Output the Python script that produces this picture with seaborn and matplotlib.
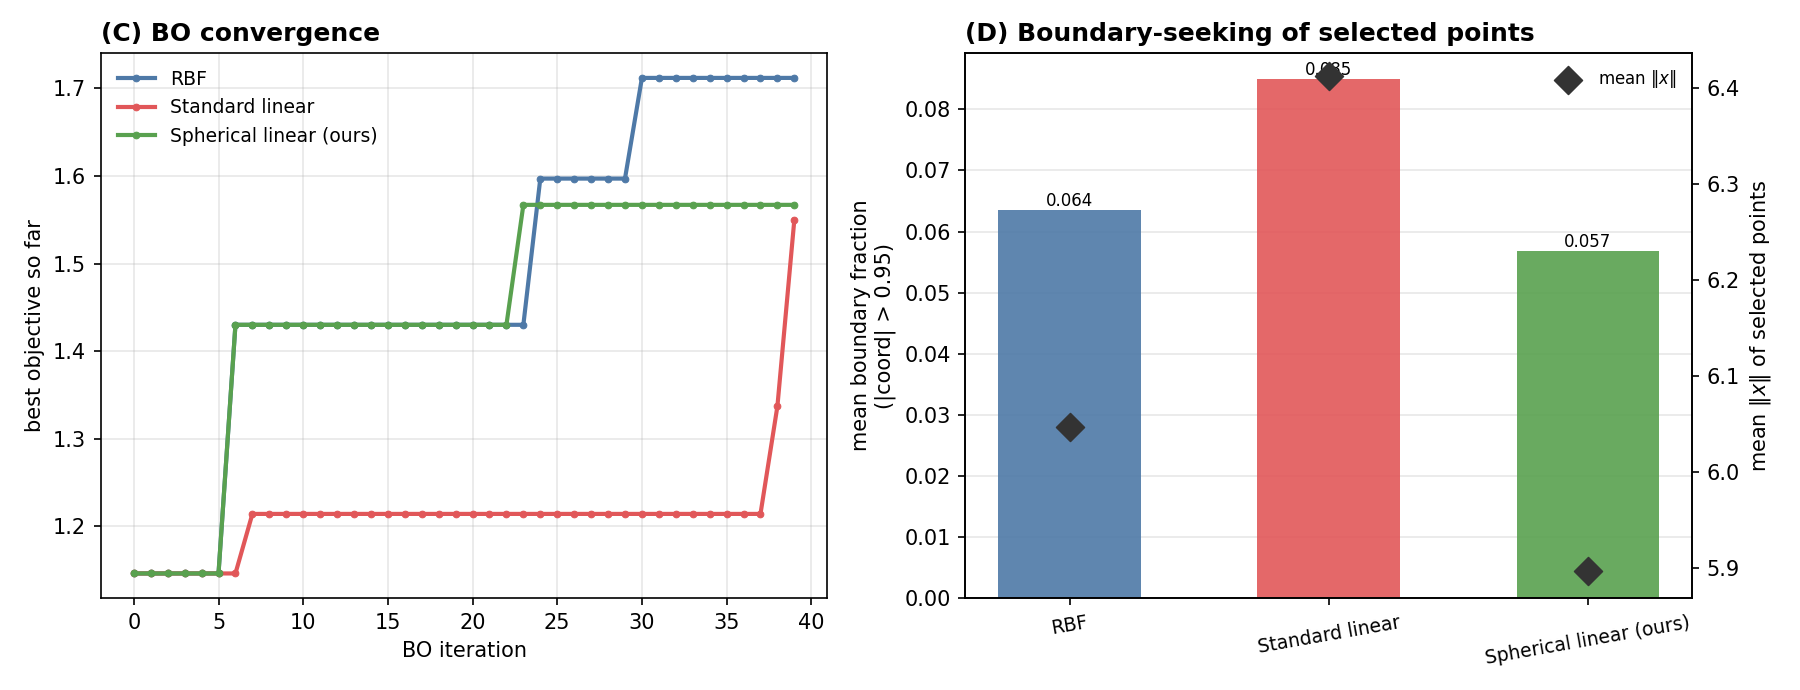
import numpy as np
import pandas as pd
import matplotlib
matplotlib.use("Agg")
import matplotlib.pyplot as plt
import seaborn as sns

# ---------------- data ----------------
iterations = list(range(40))
rbf_best = [1.146, 1.146, 1.146, 1.146, 1.146, 1.146,
            1.430, 1.430, 1.430, 1.430, 1.430, 1.430, 1.430, 1.430, 1.430,
            1.430, 1.430, 1.430, 1.430, 1.430, 1.430, 1.430, 1.430, 1.430,
            1.597, 1.597, 1.597, 1.597, 1.597, 1.597,
            1.712, 1.712, 1.712, 1.712, 1.712, 1.712, 1.712, 1.712, 1.712, 1.712]
std_best = [1.146, 1.146, 1.146, 1.146, 1.146, 1.146, 1.146,
            1.214, 1.214, 1.214, 1.214, 1.214, 1.214, 1.214, 1.214, 1.214,
            1.214, 1.214, 1.214, 1.214, 1.214, 1.214, 1.214, 1.214, 1.214,
            1.214, 1.214, 1.214, 1.214, 1.214, 1.214, 1.214, 1.214, 1.214,
            1.214, 1.214, 1.214, 1.214,
            1.337, 1.550]
sph_best = [1.146, 1.146, 1.146, 1.146, 1.146, 1.146,
            1.430, 1.430, 1.430, 1.430, 1.430, 1.430, 1.430, 1.430, 1.430,
            1.430, 1.430, 1.430, 1.430, 1.430, 1.430, 1.430, 1.430,
            1.567, 1.567, 1.567, 1.567, 1.567, 1.567, 1.567, 1.567, 1.567,
            1.567, 1.567, 1.567, 1.567, 1.567, 1.567, 1.567, 1.567]

methods = ["RBF", "Standard linear", "Spherical linear (ours)"]
boundary_frac = [0.0635, 0.0849, 0.0569]
mean_norm = [6.047, 6.412, 5.897]

colors = ["#4E79A7", "#E15759", "#59A14F"]

# ---------------- style ----------------
plt.style.use("default")
plt.rcParams["font.family"] = ["DejaVu Sans"]
plt.rcParams["font.size"] = 10

fig, (ax, axb) = plt.subplots(1, 2, figsize=(12, 4.6), dpi=150)
fig.subplots_adjust(left=0.056, right=0.94, bottom=0.133, top=0.923, wspace=0.19)

# ---------------- (C) convergence ----------------
for name, ys, c in zip(methods, [rbf_best, std_best, sph_best], colors):
    sns.lineplot(x=iterations, y=ys, ax=ax, color=c, linewidth=2.0,
                 marker="o", markersize=3.2, markeredgecolor=c,
                 markeredgewidth=0.5, label=name)
ax.set_xlabel("BO iteration")
ax.set_ylabel("best objective so far")
ax.set_title("(C) BO convergence", loc="left", fontweight="bold", fontsize=12)
ax.grid(True, alpha=0.3)
ax.set_xticks(range(0, 41, 5))
ax.legend(loc="upper left", frameon=False, fontsize=9)

# ---------------- (D) boundary-seeking ----------------
df = pd.DataFrame({"method": methods, "frac": boundary_frac})
axb.set_axisbelow(True)
axb.grid(True, axis="y", alpha=0.3)
sns.barplot(data=df, x="method", y="frac", hue="method", palette=colors,
            ax=axb, width=0.55, alpha=0.9, legend=False, saturation=1)
for i, v in enumerate(boundary_frac):
    axb.text(i, v, f"{v:.3f}", ha="center", va="bottom", fontsize=8)
axb.set_xlim(-0.4025, 2.4025)
axb.set_ylim(0, 0.0892)
axb.set_xlabel("")
axb.set_ylabel("mean boundary fraction\n(|coord| > 0.95)")
axb.set_title("(D) Boundary-seeking of selected points", loc="left",
              fontweight="bold", fontsize=12)
axb.set_xticks(range(len(methods)))
axb.set_xticklabels(methods, rotation=10, fontsize=9)

ax2 = axb.twinx()
sns.scatterplot(x=list(range(len(methods))), y=mean_norm, ax=ax2, marker="D",
                s=90, color="#333333", edgecolor="#333333", label=r"mean $\|x\|$",
                zorder=5)
ax2.set_ylim(5.869, 6.436)
ax2.set_ylabel(r"mean $\|x\|$ of selected points")
ax2.legend(loc="upper right", frameon=False, fontsize=8)

fig.savefig("out.png", dpi=150)
